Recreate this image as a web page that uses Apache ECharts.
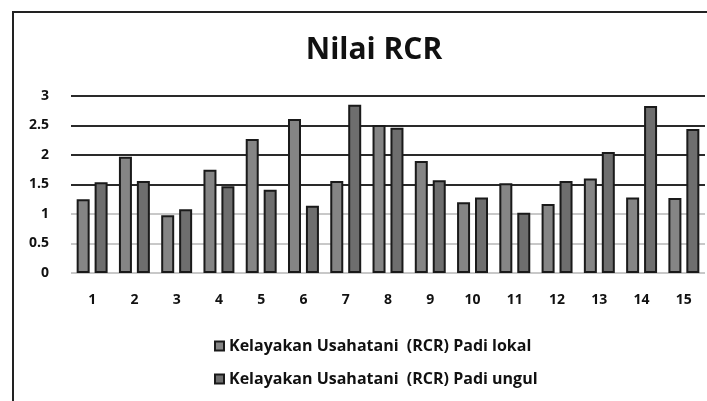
<!DOCTYPE html>
<html>
<head>
<meta charset="utf-8">
<script src="https://cdn.jsdelivr.net/npm/echarts@6/dist/echarts.min.js"></script>
<style>
  html, body { margin: 0; padding: 0; background: #fff; }
  #chart { width: 707px; height: 401px; }
</style>
</head>
<body>
<div id="chart"></div>
<script>
var categories = ["1", "2", "3", "4", "5", "6", "7", "8", "9", "10", "11", "12", "13", "14", "15"];
var lokal = [1.25, 1.97, 0.98, 1.75, 2.27, 2.61, 1.56, 2.51, 1.90, 1.20, 1.52, 1.17, 1.60, 1.28, 1.27];
var ungul = [1.54, 1.56, 1.08, 1.47, 1.41, 1.14, 2.85, 2.46, 1.57, 1.28, 1.02, 1.56, 2.05, 2.83, 2.44];
var seriesNames = ["Kelayakan Usahatani  (RCR) Padi lokal", "Kelayakan Usahatani  (RCR) Padi ungul"];

var font = "'Open Sans', 'Noto Sans', sans-serif";
var chart = echarts.init(document.getElementById("chart"));

chart.setOption({
  backgroundColor: "#fff",
  animation: false,
  title: {
    text: "Nilai RCR",
    left: 369, top: 30, textAlign: "center",
    textStyle: { fontFamily: font, fontSize: 30, fontWeight: "bold", color: "#111" }
  },
  legend: {
    orient: "vertical",
    left: 209, top: 333,
    itemGap: 17,
    itemWidth: 9, itemHeight: 9,
    icon: "rect",
    textStyle: { fontFamily: font, fontSize: 16, fontWeight: "bold", color: "#111" },
    data: seriesNames
  },
  grid: { left: 71, right: 2, top: 96, bottom: 128 },
  xAxis: {
    type: "category",
    data: categories,
    axisLine: { show: false },
    axisTick: { show: false },
    axisLabel: { margin: 20, fontFamily: font, fontSize: 14, fontWeight: "bold", color: "#111" }
  },
  yAxis: {
    type: "value",
    min: 0, max: 3, interval: 0.5,
    axisLine: { show: false },
    axisTick: { show: false },
    axisLabel: { margin: 22, fontFamily: font, fontSize: 14, fontWeight: "bold", color: "#111" },
    splitLine: {
      lineStyle: {
        width: 2,
        color: ["#c8c8c8", "#c8c8c8", "#c8c8c8", "#2a2a2a", "#2a2a2a", "#2a2a2a", "#2a2a2a"]
      }
    }
  },
  series: [
    {
      name: seriesNames[0], type: "bar", data: lokal,
      barWidth: 13, barGap: "38%",
      itemStyle: { color: "#858585", borderColor: "#1a1a1a", borderWidth: 2 }
    },
    {
      name: seriesNames[1], type: "bar", data: ungul,
      barWidth: 13,
      itemStyle: { color: "#6e6e6e", borderColor: "#1a1a1a", borderWidth: 2 }
    }
  ],
  graphic: [
    { type: "polyline", shape: { points: [[13, 401], [13, 12], [707, 12]] },
      style: { stroke: "#222", lineWidth: 2, fill: null } }
  ]
});
</script>
</body>
</html>
